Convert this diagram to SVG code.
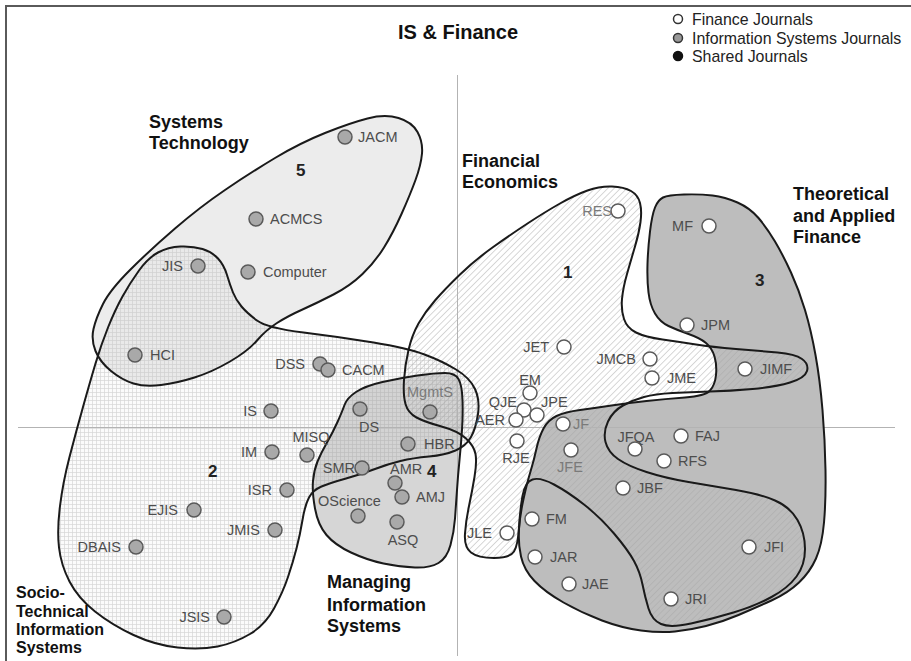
<svg xmlns="http://www.w3.org/2000/svg" width="911" height="661" viewBox="0 0 911 661">
<style>
.outline{fill:none;stroke:#1a1a1a;stroke-width:2;stroke-linejoin:round}
.fin{fill:#fff;stroke:#5a5a5a;stroke-width:1.5}
.is{fill:#a9a9a9;stroke:#5a5a5a;stroke-width:1.5}
.lbl{font-family:"Liberation Sans",Arial,sans-serif;font-size:14.5px;fill:#4d4d4d}
.dim{fill:#7a7a7a}
.ttl{font-family:"Liberation Sans",Arial,sans-serif;font-weight:bold;font-size:18px;fill:#111}
.st{font-size:16px}
.num{font-family:"Liberation Sans",Arial,sans-serif;font-weight:bold;font-size:17px;fill:#222}
.leg{font-family:"Liberation Sans",Arial,sans-serif;font-size:15.9px;fill:#222}
.mid{text-anchor:middle}
.end{text-anchor:end}
.axis{stroke:#b3b3b3;stroke-width:1;fill:none}
</style>
<defs>
<pattern id="grid" patternUnits="userSpaceOnUse" width="4" height="4">
<rect width="4" height="4" fill="#fbfbfb"/>
<path d="M0,0.5H4M0.5,0V4" stroke="#d6d6d6" stroke-width="0.7"/>
</pattern>
<pattern id="hatch" patternUnits="userSpaceOnUse" width="4.5" height="4.5" patternTransform="rotate(45)">
<line x1="0" y1="0" x2="0" y2="4.5" stroke="#a8a8a8" stroke-width="0.9"/>
</pattern>
<path id="p5" d="M103,304 Q110,290 130,270 Q150,250 175,228.5 Q200,207 225,190 Q250,173 275,158 Q300,143 325,133 Q350,123 367.5,118.5 Q385,114 398.5,118 Q412,122 417.5,132 Q423,142 422,153.5 Q421,165 415.5,180 Q410,195 401.5,214 Q393,233 384,247.5 Q375,262 362.5,274 Q350,286 333.5,294.5 Q317,303 302.5,309.5 Q288,316 277,323 Q266,330 257,340.5 Q248,351 230,361.5 Q212,372 194.5,377.5 Q177,383 161,385 Q145,387 133.5,383.5 Q122,380 111,371 Q100,362 95.5,351 Q91,340 93.5,329 Q96,318 103,304 Z"/>
<path id="p2" d="M257,320.5 Q267,328 303.5,332.5 Q340,337 373.5,342.5 Q407,348 424.5,354.5 Q442,361 456,369.5 Q470,378 475,389 Q480,400 478,414 Q476,428 471,437 Q466,446 455.5,450.5 Q445,455 429,456.5 Q413,458 400.5,461 Q388,464 375,469 Q362,474 346,478.5 Q330,483 321.5,486.5 Q313,490 309,497.5 Q305,505 302.5,520 Q300,535 296.5,548.5 Q293,562 288,577 Q283,592 274,608.5 Q265,625 250,634 Q235,643 217.5,646.5 Q200,650 177.5,647.5 Q155,645 133.5,635 Q112,625 95,611.5 Q78,598 69.5,581.5 Q61,565 59,547.5 Q57,530 60,506 Q63,482 69.5,457 Q76,432 83,407 Q90,382 95.5,363.5 Q101,345 108,327.5 Q115,310 122.5,296.5 Q130,283 139,270.5 Q148,258 158,252.5 Q168,247 180.5,246.5 Q193,246 202.5,249 Q212,252 218,258.5 Q224,265 227,275 Q230,285 233,292.5 Q236,300 241.5,306.5 Q247,313 257,320.5 Z"/>
<path id="p4" d="M344.5,405 Q347,398 356,392 Q365,386 382.5,382 Q400,378 417.5,375.5 Q435,373 445,373 Q455,373 458.5,379 Q462,385 462.5,400 Q463,415 462,430 Q461,445 459.5,460 Q458,475 457,490 Q456,505 455,518.5 Q454,532 450.5,545 Q447,558 438.5,563 Q430,568 415,567.5 Q400,567 383.5,563.5 Q367,560 351,552.5 Q335,545 326.5,535 Q318,525 315,508.5 Q312,492 313,481 Q314,470 317.5,461.5 Q321,453 327,442.5 Q333,432 337.5,422 Q342,412 344.5,405 Z"/>
<path id="p3" d="M663,197.5 Q668,195 684,194.5 Q700,194 712.5,195.5 Q725,197 737.5,202.5 Q750,208 758.5,218 Q767,228 775,241.5 Q783,255 791,272.5 Q799,290 805,310 Q811,330 815.5,355 Q820,380 822.5,410 Q825,440 825.5,470 Q826,500 824,522.5 Q822,545 816,558.5 Q810,572 799,582.5 Q788,593 771.5,600.5 Q755,608 738.5,615 Q722,622 706,626 Q690,630 675,631.5 Q660,633 641,630.5 Q622,628 602,620.5 Q582,613 563.5,602.5 Q545,592 534.5,581 Q524,570 521,556.5 Q518,543 519,529 Q520,515 523.5,499 Q527,483 530.5,471.5 Q534,460 536.5,448.5 Q539,437 543.5,428.5 Q548,420 556.5,416 Q565,412 580,410 Q595,408 611.5,405.5 Q628,403 646.5,401 Q665,399 685,397.5 Q705,396 710,390.5 Q715,385 716,375 Q717,365 714.5,356.5 Q712,348 706,343 Q700,338 688.5,334 Q677,330 668.5,326 Q660,322 655,313.5 Q650,305 648.5,292.5 Q647,280 647.5,264 Q648,248 650,231.5 Q652,215 655,207.5 Q658,200 663,197.5 Z"/>
<path id="p1" d="M587.5,190.5 Q600,186 612,186.5 Q624,187 631,191 Q638,195 640,203 Q642,211 640.5,222 Q639,233 635,246.5 Q631,260 627,274 Q623,288 622,299 Q621,310 624,319 Q627,328 636,332.5 Q645,337 662.5,339.5 Q680,342 696,344.5 Q712,347 736,349 Q760,351 777.5,352.5 Q795,354 802,359 Q809,364 807,371 Q805,378 790,382.5 Q775,387 752.5,389 Q730,391 710,391.5 Q690,392 672.5,393 Q655,394 644,397 Q633,400 623,405.5 Q613,411 608,421.5 Q603,432 605.5,442 Q608,452 618,459 Q628,466 646.5,472 Q665,478 688.5,482 Q712,486 736,490 Q760,494 775,500.5 Q790,507 797.5,520 Q805,533 805,549 Q805,565 796.5,576.5 Q788,588 771.5,597 Q755,606 733.5,612.5 Q712,619 691,623.5 Q670,628 661,624 Q652,620 648.5,608.5 Q645,597 642.5,584.5 Q640,572 634,561 Q628,550 614,533.5 Q600,517 584,504.5 Q568,492 554,484.5 Q540,477 532.5,479.5 Q525,482 522.5,496 Q520,510 519,527.5 Q518,545 514,551.5 Q510,558 494,558 Q478,558 471,552.5 Q464,547 465,533.5 Q466,520 469,506 Q472,492 474.5,477 Q477,462 475.5,454 Q474,446 466,438.5 Q458,431 441.5,426.5 Q425,422 416.5,417.5 Q408,413 405.5,404 Q403,395 404,380 Q405,365 408.5,350 Q412,335 418.5,323.5 Q425,312 435,300.5 Q445,289 460,274.5 Q475,260 492.5,247.5 Q510,235 527.5,223.5 Q545,212 560,203.5 Q575,195 587.5,190.5 Z"/>
</defs>
<rect x="0" y="0" width="911" height="661" fill="#fff"/>
<rect x="6" y="6" width="920" height="680" fill="none" stroke="#5a5a5a" stroke-width="2"/>
<g id="cluster-fills">
<use href="#p3" fill="#bdbdbd"/>
<use href="#p2" fill="url(#grid)"/>
<use href="#p5" fill="#c4c4c4" fill-opacity="0.32"/>
<use href="#p4" fill="#999" fill-opacity="0.4"/>
<use href="#p1" fill="url(#hatch)"/>
</g>
<g id="axes">
<line class="axis" x1="18" y1="427.5" x2="895" y2="427.5"/>
<line class="axis" x1="457.5" y1="75" x2="457.5" y2="656"/>
</g>
<g id="cluster-outlines">
<use href="#p3" class="outline"/>
<use href="#p2" class="outline"/>
<use href="#p5" class="outline"/>
<use href="#p4" class="outline"/>
<use href="#p1" class="outline"/>
</g>
<g id="connectors"></g>
<g id="cluster-labels">
<text class="ttl" x="398" y="39" style="font-size:20px">IS &amp; Finance</text>
<text class="ttl" x="149" y="128">Systems</text>
<text class="ttl" x="149" y="149">Technology</text>
<text class="num" x="296" y="176">5</text>
<text class="ttl" x="462" y="167">Financial</text>
<text class="ttl" x="462" y="188">Economics</text>
<text class="num" x="563" y="278">1</text>
<text class="ttl" x="793" y="200">Theoretical</text>
<text class="ttl" x="793" y="222">and Applied</text>
<text class="ttl" x="793" y="243">Finance</text>
<text class="num" x="755" y="286">3</text>
<text class="num" x="208" y="477">2</text>
<text class="num" x="427" y="477">4</text>
<text class="ttl" x="327" y="588">Managing</text>
<text class="ttl" x="327" y="611">Information</text>
<text class="ttl" x="327" y="632">Systems</text>
<text class="ttl st" x="16" y="598">Socio-</text>
<text class="ttl st" x="16" y="617">Technical</text>
<text class="ttl st" x="16" y="635">Information</text>
<text class="ttl st" x="16" y="653">Systems</text>
</g>
<g id="legend">
<circle cx="678" cy="19" r="4.5" fill="#fff" stroke="#333" stroke-width="1.5"/>
<circle cx="678" cy="38" r="4.5" fill="#999" stroke="#333" stroke-width="1.5"/>
<circle cx="678" cy="56" r="4.5" fill="#111" stroke="#111" stroke-width="1.5"/>
<text class="leg" x="692" y="25">Finance Journals</text>
<text class="leg" x="692" y="44">Information Systems Journals</text>
<text class="leg" x="692" y="62">Shared Journals</text>
</g>
<g id="JACM"><circle class="is" cx="345" cy="137" r="7"/><text class="lbl" x="358" y="142">JACM</text></g>
<g id="ACMCS"><circle class="is" cx="256" cy="219" r="7"/><text class="lbl" x="270" y="224">ACMCS</text></g>
<g id="Computer"><circle class="is" cx="248" cy="272" r="7"/><text class="lbl" x="263" y="277">Computer</text></g>
<g id="JIS"><circle class="is" cx="198" cy="266" r="7"/><text class="lbl end" x="183" y="271">JIS</text></g>
<g id="HCI"><circle class="is" cx="135" cy="355" r="7"/><text class="lbl" x="150" y="360">HCI</text></g>
<g id="DSS"><circle class="is" cx="320" cy="364" r="7"/><text class="lbl end" x="305" y="369">DSS</text></g>
<g id="CACM"><circle class="is" cx="328" cy="370" r="7"/><text class="lbl" x="342" y="375">CACM</text></g>
<g id="IS"><circle class="is" cx="271" cy="411" r="7"/><text class="lbl end" x="257" y="416">IS</text></g>
<g id="IM"><circle class="is" cx="272" cy="452" r="7"/><text class="lbl end" x="257" y="457">IM</text></g>
<g id="MISQ"><circle class="is" cx="307" cy="455" r="7"/><text class="lbl mid" x="311" y="442">MISQ</text></g>
<g id="ISR"><circle class="is" cx="287" cy="490" r="7"/><text class="lbl end" x="272" y="495">ISR</text></g>
<g id="EJIS"><circle class="is" cx="194" cy="510" r="7"/><text class="lbl end" x="178" y="515">EJIS</text></g>
<g id="JMIS"><circle class="is" cx="275" cy="530" r="7"/><text class="lbl end" x="260" y="535">JMIS</text></g>
<g id="DBAIS"><circle class="is" cx="136" cy="547" r="7"/><text class="lbl end" x="121" y="552">DBAIS</text></g>
<g id="JSIS"><circle class="is" cx="224" cy="617" r="7"/><text class="lbl end" x="210" y="622">JSIS</text></g>
<g id="DS"><circle class="is" cx="360" cy="409" r="7"/><text class="lbl mid" x="369" y="432">DS</text></g>
<g id="MgmtS"><circle class="is" cx="430" cy="412" r="7"/><text class="lbl mid dim" x="430" y="397">MgmtS</text></g>
<g id="HBR"><circle class="is" cx="408" cy="444" r="7"/><text class="lbl" x="424" y="449">HBR</text></g>
<g id="SMR"><circle class="is" cx="362" cy="468" r="7"/><text class="lbl end" x="355" y="473">SMR</text></g>
<g id="AMR"><circle class="is" cx="395" cy="483" r="7"/><text class="lbl" x="390" y="474">AMR</text></g>
<g id="AMJ"><circle class="is" cx="402" cy="497" r="7"/><text class="lbl" x="416" y="502">AMJ</text></g>
<g id="OScience"><circle class="is" cx="358" cy="516" r="7"/><text class="lbl" x="318" y="506">OScience</text></g>
<g id="ASQ"><circle class="is" cx="397" cy="522" r="7"/><text class="lbl mid" x="403" y="545">ASQ</text></g>
<g id="RES"><circle class="fin" cx="618" cy="211" r="7"/><text class="lbl end dim" x="612" y="216">RES</text></g>
<g id="MF"><circle class="fin" cx="709" cy="226" r="7"/><text class="lbl end" x="693" y="231">MF</text></g>
<g id="JPM"><circle class="fin" cx="687" cy="325" r="7"/><text class="lbl" x="701" y="330">JPM</text></g>
<g id="JET"><circle class="fin" cx="564" cy="347" r="7"/><text class="lbl end" x="549" y="352">JET</text></g>
<g id="JMCB"><circle class="fin" cx="650" cy="359" r="7"/><text class="lbl end" x="636" y="364">JMCB</text></g>
<g id="JME"><circle class="fin" cx="652" cy="378" r="7"/><text class="lbl" x="667" y="383">JME</text></g>
<g id="JIMF"><circle class="fin" cx="745" cy="369" r="7"/><text class="lbl" x="760" y="374">JIMF</text></g>
<g id="EM"><circle class="fin" cx="530" cy="393" r="7"/><text class="lbl mid" x="530" y="385">EM</text></g>
<g id="QJE"><circle class="fin" cx="524" cy="410" r="7"/><text class="lbl end" x="517" y="407">QJE</text></g>
<g id="JPE"><circle class="fin" cx="537" cy="415" r="7"/><text class="lbl" x="541" y="407">JPE</text></g>
<g id="AER"><circle class="fin" cx="516" cy="420" r="7"/><text class="lbl end" x="505" y="425">AER</text></g>
<g id="RJE"><circle class="fin" cx="517" cy="441" r="7"/><text class="lbl mid" x="516" y="463">RJE</text></g>
<g id="JF"><circle class="fin" cx="563" cy="424" r="7"/><text class="lbl dim" x="573" y="429">JF</text></g>
<g id="JFE"><circle class="fin" cx="571" cy="450" r="7"/><text class="lbl mid dim" x="570" y="472">JFE</text></g>
<g id="JFQA"><circle class="fin" cx="635" cy="449" r="7"/><text class="lbl mid" x="636" y="442">JFQA</text></g>
<g id="FAJ"><circle class="fin" cx="681" cy="436" r="7"/><text class="lbl" x="695" y="441">FAJ</text></g>
<g id="RFS"><circle class="fin" cx="664" cy="461" r="7"/><text class="lbl" x="678" y="466">RFS</text></g>
<g id="JBF"><circle class="fin" cx="623" cy="488" r="7"/><text class="lbl" x="637" y="493">JBF</text></g>
<g id="FM"><circle class="fin" cx="532" cy="519" r="7"/><text class="lbl" x="546" y="524">FM</text></g>
<g id="JLE"><circle class="fin" cx="507" cy="533" r="7"/><text class="lbl end" x="492" y="538">JLE</text></g>
<g id="JAR"><circle class="fin" cx="535" cy="557" r="7"/><text class="lbl" x="550" y="562">JAR</text></g>
<g id="JAE"><circle class="fin" cx="569" cy="584" r="7"/><text class="lbl" x="582" y="589">JAE</text></g>
<g id="JRI"><circle class="fin" cx="671" cy="599" r="7"/><text class="lbl" x="685" y="604">JRI</text></g>
<g id="JFI"><circle class="fin" cx="749" cy="547" r="7"/><text class="lbl" x="764" y="552">JFI</text></g>
</svg>
